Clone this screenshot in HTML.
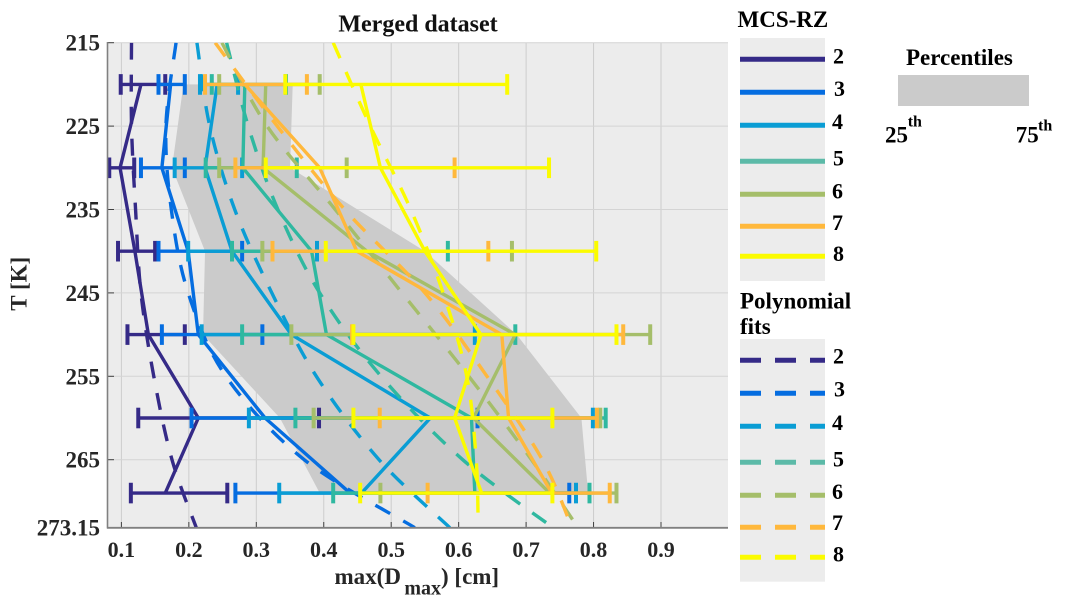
<!DOCTYPE html>
<html lang="en">
<head>
<meta charset="utf-8">
<title>Merged dataset</title>
<style>
html,body{margin:0;padding:0;background:#fff;width:1065px;height:607px;overflow:hidden}
svg{display:block}
text{font-family:"Liberation Serif",serif;font-weight:bold}
</style>
</head>
<body>
<svg id="chart" xmlns="http://www.w3.org/2000/svg" width="1065" height="607" viewBox="0 0 1065 607">
  <defs><clipPath id="plot-clip"><rect x="107.9" y="42.7" width="620.1" height="485"/></clipPath></defs>
  <rect x="107.9" y="42.7" width="620.1" height="485" fill="#ececec"/>
  <g id="grid"></g>
  <g id="marks" clip-path="url(#plot-clip)"></g>
  <g id="axes"></g>

  <text x="418" y="31.7" font-size="24" text-anchor="middle" fill="#111">Merged dataset</text>
  <text transform="translate(26.7,310.7) rotate(-90)" font-size="23" fill="#262626">T [K]</text>
  <text y="583.8" font-size="23" fill="#262626"><tspan x="334.5">max(D</tspan><tspan x="404.4" y="594.6" font-size="20">max</tspan><tspan x="441" y="583.8">) [cm]</tspan></text>

  <g>
    <text x="737.5" y="27" font-size="23" fill="#000">MCS-RZ</text>
    <rect x="740" y="38" width="85" height="243" fill="#ececec"/>
    <g id="legend-solid"></g>
  </g>
  <g>
    <text x="740" y="308.3" font-size="23" fill="#000">Polynomial</text>
    <text x="740" y="334" font-size="23" fill="#000">fits</text>
    <rect x="740" y="339" width="85" height="242.7" fill="#ececec"/>
    <g id="legend-fit"></g>
  </g>
  <g>
    <text x="906" y="65" font-size="23" fill="#000">Percentiles</text>
    <rect x="898" y="75" width="131" height="31" fill="#cbcbcb"/>
    <text x="885" y="142.3" font-size="23" fill="#000">25</text>
    <text x="907.7" y="126.7" font-size="16" fill="#000">th</text>
    <text x="1015.7" y="142.3" font-size="23" fill="#000">75</text>
    <text x="1038" y="130.7" font-size="16" fill="#000">th</text>
  </g>
</svg>
<script>
const xTicks = [0.1, 0.2, 0.3, 0.4, 0.5, 0.6, 0.7, 0.8, 0.9];
const xTickLabels = ['0.1', '0.2', '0.3', '0.4', '0.5', '0.6', '0.7', '0.8', '0.9'];
const yTicks = [215, 225, 235, 245, 255, 265, 273.15];
const yTickLabels = ['215', '225', '235', '245', '255', '265', '273.15'];
const seriesNames = ['2', '3', '4', '5', '6', '7', '8'];

const temps = [220, 230, 240, 250, 260, 269];
const fitTemps = [215, 225, 235, 245, 255, 265, 273.15];

const pct25 = [0.192, 0.175, 0.224, 0.221, 0.335, 0.394];
const pct75 = [0.354, 0.350, 0.550, 0.686, 0.782, 0.792];

const mean2 = [0.129, 0.098, 0.120, 0.140, 0.214, 0.165];
const mean3 = [0.173, 0.160, 0.199, 0.214, 0.313, 0.439];
const mean4 = [0.242, 0.224, 0.264, 0.352, 0.558, 0.456];
const mean5 = [0.283, 0.280, 0.382, 0.404, 0.619, 0.624];
const mean6 = [0.314, 0.310, 0.464, 0.684, 0.622, 0.735];
const mean7 = [0.283, 0.394, 0.449, 0.664, 0.674, 0.738];
const mean8 = [0.455, 0.484, 0.550, 0.633, 0.594, 0.634];

const low2 = [0.099, 0.082, 0.095, 0.109, 0.125, 0.114];
const low3 = [0.155, 0.129, 0.155, 0.160, 0.204, 0.269];
const low4 = [0.2165, 0.179, 0.199, 0.219, 0.289, 0.334];
const low5 = [0.234, 0.225, 0.264, 0.279, 0.358, 0.414];
const low6 = [0.245, 0.245, 0.309, 0.352, 0.385, 0.484];
const low7 = [0.224, 0.269, 0.324, 0.442, 0.483, 0.554];
const low8 = [0.343, 0.314, 0.403, 0.444, 0.444, 0.454];

const high2 = [0.165, 0.119, 0.150, 0.194, 0.393, 0.257];
const high3 = [0.194, 0.194, 0.279, 0.309, 0.628, 0.764];
const high4 = [0.273, 0.279, 0.390, 0.624, 0.799, 0.774];
const high5 = [0.344, 0.360, 0.584, 0.684, 0.818, 0.794];
const high6 = [0.394, 0.434, 0.679, 0.884, 0.810, 0.834];
const high7 = [0.375, 0.594, 0.644, 0.844, 0.805, 0.824];
const high8 = [0.672, 0.734, 0.804, 0.834, 0.739, 0.739];

const fit2 = [0.115, 0.115, 0.121, 0.129, 0.148, 0.175, 0.211];
const fit3 = [0.181, 0.166, 0.174, 0.199, 0.255, 0.371, 0.535];
const fit4 = [0.212, 0.231, 0.268, 0.323, 0.389, 0.482, 0.587];
const fit5 = [0.256, 0.288, 0.332, 0.394, 0.485, 0.606, 0.740];
const fit6 = [0.249, 0.316, 0.417, 0.516, 0.615, 0.708, 0.777];
const fit7 = [0.239, 0.331, 0.431, 0.550, 0.642, 0.724, 0.768];
const fit8 = [0.414, 0.469, 0.529, 0.577, 0.612, 0.626, 0.629];

const means = [mean2, mean3, mean4, mean5, mean6, mean7, mean8];
const lows = [low2, low3, low4, low5, low6, low7, low8];
const highs = [high2, high3, high4, high5, high6, high7, high8];
const fits = [fit2, fit3, fit4, fit5, fit6, fit7, fit8];

const plotColors = ['#352a87', '#056de0', '#0a9dd4', '#2fb8a0', '#a5be6a', '#ffb83c', '#fbfb00'];
const legendColors = ['#352a87', '#056de0', '#0a9dd4', '#5cbaa8', '#a5be6a', '#ffb83c', '#fbfb00'];

const NS = 'http://www.w3.org/2000/svg';
const xAxis = v => 53.95 + 674.5 * v;
const yAxis = t => 42.7 + (t - 215) * 8.34;

function make(tag, parent, attrs, name) {
  const el = document.createElementNS(NS, tag);
  for (const k in attrs) el.setAttribute(k, attrs[k]);
  
  
  parent.appendChild(el);
  return el;
}
function smoothPath(pts) {
  let d = 'M' + pts[0][0] + ' ' + pts[0][1];
  for (let i = 0; i < pts.length - 1; i++) {
    const p0 = pts[Math.max(i - 1, 0)], p1 = pts[i], p2 = pts[i + 1], p3 = pts[Math.min(i + 2, pts.length - 1)];
    d += ' C' + (p1[0] + (p2[0] - p0[0]) / 6) + ' ' + (p1[1] + (p2[1] - p0[1]) / 6) + ' ' +
         (p2[0] - (p3[0] - p1[0]) / 6) + ' ' + (p2[1] - (p3[1] - p1[1]) / 6) + ' ' + p2[0] + ' ' + p2[1];
  }
  return d;
}

const grid = document.getElementById('grid');
const marks = document.getElementById('marks');
const axes = document.getElementById('axes');

xTicks.forEach((v, i) => {
  make('line', grid, {x1: xAxis(v), x2: xAxis(v), y1: 42.7, y2: 527.7, stroke: '#cdcdcd', 'stroke-width': 1}, 'x-grid-line');
  make('line', axes, {x1: xAxis(v), x2: xAxis(v), y1: 527, y2: 522, stroke: '#404040', 'stroke-width': 1}, 'x-tick');
  const t = make('text', axes, {x: xAxis(v), y: 556.8, 'font-size': 22, 'text-anchor': 'middle', fill: '#262626'}, 'x-tick-label');
  t.textContent = xTickLabels[i];
});
yTicks.forEach((v, i) => {
  if (i < yTicks.length - 1) {
    make('line', grid, {x1: 107.9, x2: 728, y1: yAxis(v), y2: yAxis(v), stroke: '#d4d4d4', 'stroke-width': 1}, 'y-grid-line');
    make('line', axes, {x1: 108, x2: 114, y1: yAxis(v), y2: yAxis(v), stroke: '#404040', 'stroke-width': 1}, 'y-tick');
  }
  const t = make('text', axes, {x: 100, y: yAxis(v) + 8, 'font-size': 23, 'text-anchor': 'end', fill: '#262626'}, 'y-tick-label');
  t.textContent = yTickLabels[i];
});
make('line', axes, {x1: 107.5, x2: 107.5, y1: 42, y2: 528.5, stroke: '#808080', 'stroke-width': 1.6}, 'y-axis-line');
make('line', axes, {x1: 107, x2: 728, y1: 527.8, y2: 527.8, stroke: '#808080', 'stroke-width': 1.8}, 'x-axis-line');

const pctPts = temps.map((t, i) => xAxis(pct25[i]) + ',' + yAxis(t))
  .concat(temps.map((t, i) => xAxis(pct75[i]) + ',' + yAxis(t)).reverse());
make('polygon', marks, {points: pctPts.join(' '), fill: '#cbcbcb'}, 'percentile-band');

seriesNames.forEach((name, s) => {
  const c = plotColors[s];
  const g = make('g', marks, {}, 'series-' + name);
  const fitPts = fitTemps.map((t, i) => [xAxis(fits[s][i]), yAxis(t)]);
  make('path', g, {d: smoothPath(fitPts), fill: 'none', stroke: c, 'stroke-width': 3.4, 'stroke-dasharray': '17 15'}, 'fit-line-' + name);
  temps.forEach((t, i) => {
    const y = yAxis(t), a = xAxis(lows[s][i]), b = xAxis(highs[s][i]);
    make('line', g, {x1: a, x2: b, y1: y, y2: y, stroke: c, 'stroke-width': 3.4}, 'error-bar-' + name);
    make('line', g, {x1: a, x2: a, y1: y - 10.3, y2: y + 10.3, stroke: c, 'stroke-width': 4}, 'error-cap-low-' + name);
    make('line', g, {x1: b, x2: b, y1: y - 10.3, y2: y + 10.3, stroke: c, 'stroke-width': 4}, 'error-cap-high-' + name);
  });
  const pts = temps.map((t, i) => xAxis(means[s][i]) + ',' + yAxis(t)).join(' ');
  make('polyline', g, {points: pts, fill: 'none', stroke: c, 'stroke-width': 3.4, 'stroke-linejoin': 'miter'}, 'mean-line-' + name);
});

const legendSolid = document.getElementById('legend-solid');
const legendFit = document.getElementById('legend-fit');
const solidLineY = [59.3, 92.3, 125.3, 161.3, 194.3, 226.3, 256.3];
const solidDigitY = [63.3, 96, 129, 165.7, 198.3, 230, 261];
const fitLineY = [360.3, 393.3, 426.3, 462.3, 495.3, 527.3, 557.3];
const fitDigitY = [363.3, 396.7, 430, 466.7, 499, 530, 561.7];
const digitX = [833, 834, 832, 833, 832, 832, 833];
seriesNames.forEach((name, i) => {
  make('line', legendSolid, {x1: 740, x2: 825, y1: solidLineY[i], y2: solidLineY[i], stroke: legendColors[i], 'stroke-width': 5}, 'solid-legend-line-' + name);
  const a = make('text', legendSolid, {x: digitX[i], y: solidDigitY[i], 'font-size': 22, fill: '#000'}, 'solid-legend-label-' + name);
  a.textContent = name;
  make('line', legendFit, {x1: 740, x2: 825, y1: fitLineY[i], y2: fitLineY[i], stroke: legendColors[i], 'stroke-width': 5, 'stroke-dasharray': '21 14'}, 'fit-legend-line-' + name);
  const b = make('text', legendFit, {x: digitX[i], y: fitDigitY[i], 'font-size': 22, fill: '#000'}, 'fit-legend-label-' + name);
  b.textContent = name;
});
</script>
</body>
</html>
